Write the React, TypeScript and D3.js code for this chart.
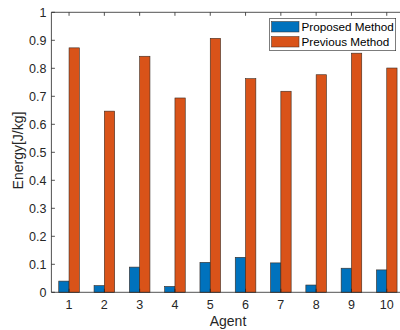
import React from "react";
import * as d3 from "d3";

const agents = ["1", "2", "3", "4", "5", "6", "7", "8", "9", "10"];
const proposed = [0.04, 0.024, 0.09, 0.021, 0.107, 0.125, 0.105, 0.026, 0.086, 0.08];
const previous = [0.873, 0.647, 0.843, 0.694, 0.907, 0.763, 0.718, 0.777, 0.854, 0.801];
const yTicks = [0, 0.1, 0.2, 0.3, 0.4, 0.5, 0.6, 0.7, 0.8, 0.9, 1];
const seriesNames = ["Proposed Method", "Previous Method"];
const colors = ["#0072BD", "#D95319"];

export default function App() {
  const W = 400, H = 330;
  const x = d3.scaleLinear().domain([0.5, 10.5]).range([51.4, 404.4]);
  const y = d3.scaleLinear().domain([0, 1]).range([292.3, 12.3]);
  const bw = 10.3;
  const font = "Liberation Sans, Arial, Helvetica, sans-serif";
  const axisColor = "#262626";
  const series = [proposed, previous];
  return (
    <div style={{ position: "absolute", left: 0, top: 0 }}>
      <svg width={W} height={H} style={{ display: "block", background: "#fff" }}>
        {series.map((vals, si) =>
          vals.map((v, i) => {
            const cx = x(i + 1);
            const x0 = si === 0 ? cx - bw : cx;
            return (
              <rect key={`${si}-${i}`} x={x0} y={y(v)} width={bw} height={y(0) - y(v)}
                fill={colors[si]} stroke="#3a2a20" strokeWidth={0.6} />
            );
          })
        )}
        {/* axes */}
        <line x1={x(0.5)} x2={W} y1={y(0)} y2={y(0)} stroke={axisColor} strokeWidth={0.8} />
        <line x1={x(0.5)} x2={W} y1={y(1)} y2={y(1)} stroke={axisColor} strokeWidth={0.8} />
        <line x1={x(0.5)} x2={x(0.5)} y1={y(0)} y2={y(1)} stroke={axisColor} strokeWidth={0.8} />
        {yTicks.map((t) => (
          <g key={t}>
            <line x1={x(0.5)} x2={x(0.5) + 3.5} y1={y(t)} y2={y(t)} stroke={axisColor} strokeWidth={0.8} />
            <text x={x(0.5) - 5} y={y(t)} dy="0.35em" textAnchor="end" fontFamily={font} fontSize={12.5} fill={axisColor}>
              {d3.format("")(t)}
            </text>
          </g>
        ))}
        {agents.map((a, i) => (
          <g key={a}>
            <line x1={x(i + 1)} x2={x(i + 1)} y1={y(0)} y2={y(0) - 3.5} stroke={axisColor} strokeWidth={0.8} />
            <line x1={x(i + 1)} x2={x(i + 1)} y1={y(1)} y2={y(1) + 3.5} stroke={axisColor} strokeWidth={0.8} />
            <text x={x(i + 1)} y={304.5} dy="0.35em" textAnchor="middle" fontFamily={font} fontSize={12.5} fill={axisColor}>
              {a}
            </text>
          </g>
        ))}
        <text x={228} y={321.5} dy="0.35em" textAnchor="middle" fontFamily={font} fontSize={14} fill={axisColor}>
          Agent
        </text>
        <text transform={`translate(18,150.5) rotate(-90)`} textAnchor="middle" dy="0.35em" fontFamily={font} fontSize={14} fill={axisColor}>
          Energy[J/kg]
        </text>
        {/* legend */}
        <rect x={269.7} y={18.3} width={126} height={32.4} fill="#fff" stroke="#262626" strokeWidth={0.6} />
        {seriesNames.map((n, i) => (
          <g key={n}>
            <rect x={271.5} y={21.5 + i * 15} width={27.5} height={10.5} fill={colors[i]} stroke="#3a2a20" strokeWidth={0.5} />
            <text x={301.5} y={27 + i * 15} dy="0.35em" fontFamily={font} fontSize={11.7} fill="#000">
              {n}
            </text>
          </g>
        ))}
      </svg>
    </div>
  );
}
